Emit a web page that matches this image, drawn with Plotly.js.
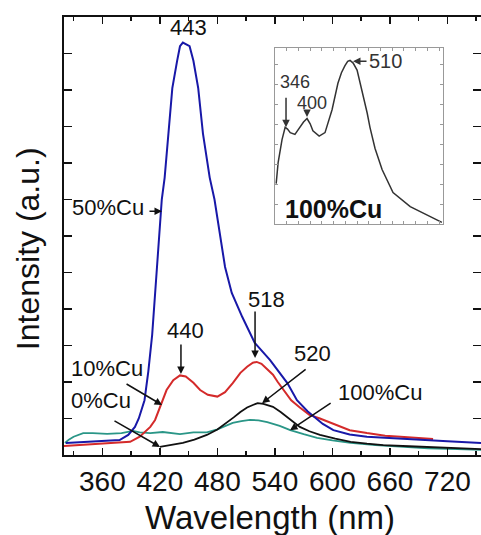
<!DOCTYPE html>
<html>
<head>
<meta charset="utf-8">
<script src="https://cdn.plot.ly/plotly-3.0.1.min.js"></script>
<style>html,body{margin:0;padding:0;background:#fff;}#chart{width:481px;height:535px;}</style>
</head>
<body>
<div id="chart"></div>
<script>
// ---- data (wavelength in nm, intensity in a.u.) ----
var cu50_nm = [322,335,347,365,378,387,394,398,404,408,412,417,422,425,429,433,438,441,444,448,451,455,460,465,472,477,482,488,495,506,519,535,553,563,574,590,601,618,636,660,688,720,755];
var cu50_I  = [0.33,0.35,0.38,0.40,0.41,0.55,0.77,1.0,1.5,2.3,3.3,5.15,7.0,7.6,8.8,10.05,10.8,11.2,11.3,11.25,11.2,10.8,10.05,8.8,7.6,7.0,6.1,5.15,4.44,3.78,3.07,2.6,1.97,1.5,1.2,0.85,0.68,0.56,0.5,0.47,0.44,0.38,0.33];

var cu10_nm = [320,340,365,389,399,410,415,420,427,434,441,447,455,462,470,480,488,496,504,511,517,521,526,532,538,543,549,557,566,576,587,601,618,636,655,671,690,705];
var cu10_I  = [0.25,0.28,0.33,0.36,0.5,0.77,0.96,1.3,1.78,2.05,2.18,2.15,1.98,1.78,1.65,1.6,1.72,1.97,2.25,2.42,2.53,2.55,2.5,2.35,2.2,2.0,1.78,1.5,1.3,1.1,1.0,0.85,0.68,0.6,0.53,0.5,0.46,0.44];

var cu0_nm = [420,432,444,456,469,480,490,497,504,511,517,522,528,538,546,553,560,566,576,587,603,619,636,653,680,705,730,755];
var cu0_I  = [0.22,0.27,0.33,0.42,0.55,0.7,0.88,1.03,1.18,1.3,1.37,1.42,1.4,1.32,1.18,1.04,0.9,0.77,0.65,0.55,0.45,0.36,0.31,0.27,0.24,0.22,0.19,0.16];

var cu100_nm = [321,325,330,335,340,350,365,380,392,399,410,423,441,455,469,480,490,496,505,514,523,532,545,556,570,584,600,619,645,671,700,730,755];
var cu100_I  = [0.33,0.42,0.5,0.56,0.6,0.6,0.58,0.6,0.66,0.62,0.6,0.63,0.57,0.62,0.62,0.7,0.8,0.88,0.93,0.96,0.95,0.9,0.8,0.68,0.57,0.47,0.4,0.33,0.27,0.22,0.18,0.16,0.14];

// inset: 100%Cu alone (normalised)
var inset_nm = [323,328,338,346,352,359,371,384,393,402,410,417,433,448,457,466,481,490,499,506,512,520,530,543,556,563,576,594,622,666,709,747];
var inset_I  = [0.23,0.35,0.48,0.55,0.54,0.52,0.51,0.55,0.58,0.6,0.57,0.53,0.5,0.52,0.58,0.65,0.8,0.86,0.9,0.925,0.93,0.915,0.875,0.76,0.63,0.55,0.43,0.31,0.18,0.1,0.05,0.01];

var xTickVals = [360,420,480,540,600,660,720];
var xTickText = ['360','420','480','540','600','660','720'];

var FONT = 'Liberation Sans, Arial, Helvetica, sans-serif';

var traces = [
  {x: cu100_nm, y: cu100_I, name:'100%Cu', mode:'lines', line:{color:'#2a9687', width:1.8}},
  {x: cu0_nm,   y: cu0_I,   name:'0%Cu',   mode:'lines', line:{color:'#111111', width:1.8}},
  {x: cu10_nm,  y: cu10_I,  name:'10%Cu',  mode:'lines', line:{color:'#d42a2a', width:2}},
  {x: cu50_nm,  y: cu50_I,  name:'50%Cu',  mode:'lines', line:{color:'#1818a8', width:2}},
  {x: inset_nm, y: inset_I, name:'100%Cu inset', mode:'lines', xaxis:'x2', yaxis:'y2', line:{color:'#333333', width:1.5}}
];

function txt(t, x, y, size, ref, bold, color) {
  return {text: bold ? '<b>'+t+'</b>' : t, x:x, y:y, xref: ref ? 'x2':'x', yref: ref ? 'y2':'y',
    showarrow:false, xanchor:'center', yanchor:'middle', borderpad:0,
    font:{family:FONT, size:size, color: color || '#111'}};
}
function arr(x0, y0, x1, y1, ref, color) {
  var xr = ref ? 'x2':'x', yr = ref ? 'y2':'y';
  return {text:'', x:x1, y:y1, ax:x0, ay:y0, xref:xr, yref:yr, axref:xr, ayref:yr,
    showarrow:true, arrowhead:2, arrowsize:1, arrowwidth:1.5, arrowcolor: color || '#111',
    standoff:0, startstandoff:0};
}

var annotations = [
  txt('443', 450, 11.72, 22),
  txt('50%Cu', 366, 6.79, 22),
  arr(407.6, 6.68, 422.2, 6.68),
  txt('440', 447, 3.40, 22),
  arr(442, 3.07, 442, 2.22),
  txt('518', 531, 4.25, 22),
  arr(519.3, 3.97, 519.3, 2.66),
  txt('520', 579, 2.79, 22),
  arr(573.6, 2.38, 526.6, 1.42),
  txt('10%Cu', 365, 2.36, 22),
  arr(383.7, 1.97, 422.3, 1.37),
  txt('0%Cu', 358.6, 1.48, 22),
  arr(371.1, 0.96, 420.2, 0.22),
  txt('100%Cu', 650, 1.70, 22),
  arr(599.7, 1.45, 555.8, 0.68),
  // inset
  txt('346', 370, 0.81, 18, true, false, '#333'),
  arr(348.2, 0.727, 348.2, 0.551, true, '#333'),
  txt('400', 414, 0.69, 18, true, false, '#333'),
  arr(401.9, 0.655, 401.9, 0.608, true, '#333'),
  txt('510', 604, 0.926, 20, true, false, '#333'),
  arr(558, 0.926, 519.6, 0.926, true, '#333'),
  txt('100%Cu', 468.5, 0.085, 25, true, true, '#111'),
  // axis titles
  {text:'Wavelength (nm)', xref:'paper', yref:'paper', x:0.494, y:-0.143, showarrow:false,
   xanchor:'center', yanchor:'middle', font:{family:FONT, size:33, color:'#111'}},
  {text:'Intensity (a.u.)', xref:'paper', yref:'paper', x:-0.0863, y:0.47, showarrow:false, textangle:-90,
   xanchor:'center', yanchor:'middle', font:{family:FONT, size:32, color:'#111'}}
];

var layout = {
  width:481, height:535,
  margin:{l:64, r:0, t:17, b:80, pad:0},
  paper_bgcolor:'#fff', plot_bgcolor:'#fff',
  showlegend:false,
  font:{family:FONT, color:'#111'},
  xaxis:{range:[320,755], tickmode:'array', tickvals:xTickVals, ticktext:xTickText,
    ticks:'inside', ticklen:7, tickwidth:1.5, tickcolor:'#111',
    minor:{dtick:30, tick0:330, ticks:'inside', ticklen:4, tickwidth:1.5, tickcolor:'#111', showgrid:false},
    showline:true, linewidth:2, linecolor:'#111', mirror:'ticks',
    showgrid:false, zeroline:false, tickfont:{family:FONT, size:28, color:'#111'},
    fixedrange:true},
  yaxis:{range:[0,12], dtick:1, tick0:0, ticks:'inside', ticklen:8, tickwidth:1.5, tickcolor:'#111',
    showticklabels:false, showline:true, linewidth:2, linecolor:'#111', mirror:'ticks',
    showgrid:false, zeroline:false, fixedrange:true},
  xaxis2:{domain:[0.506,0.909], anchor:'y2', range:[320,750], dtick:30, tick0:320,
    ticks:'inside', ticklen:3, tickwidth:1, tickcolor:'#999', showticklabels:false,
    showline:true, linewidth:1, linecolor:'#999', mirror:'ticks', showgrid:false, zeroline:false},
  yaxis2:{domain:[0.527,0.929], anchor:'x2', range:[0,1], dtick:0.1136, tick0:0,
    ticks:'inside', ticklen:3, tickwidth:1, tickcolor:'#999', showticklabels:false,
    showline:true, linewidth:1, linecolor:'#999', mirror:'ticks', showgrid:false, zeroline:false},
  annotations: annotations
};

Plotly.newPlot('chart', traces, layout, {displayModeBar:false, staticPlot:true});
</script>
</body>
</html>
